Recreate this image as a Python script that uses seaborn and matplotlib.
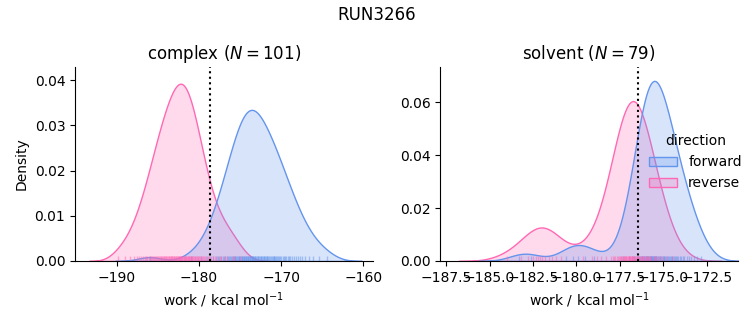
import numpy as np
import pandas as pd
import matplotlib
matplotlib.use("Agg")
import matplotlib.pyplot as plt
import seaborn as sns

run_name = "RUN3266"
phases = ["complex", "solvent"]
n_cycles = [101, 79]
directions = ["forward", "reverse"]
colors = ["cornflowerblue", "hotpink"]
xlabel = "work / kcal mol$^{-1}$"

# work values (kcal/mol)
complex_forward = [
    -173.15, -173.06, -172.97, -172.88, -172.79, -172.70, -172.61, -172.52, -172.43, -172.34,
    -172.24, -172.15, -172.05, -171.96, -171.86, -171.76, -171.67, -171.57, -171.46, -171.36,
    -171.26, -171.16, -171.05, -170.94, -170.83, -170.72, -170.60, -170.48, -170.36, -170.23,
    -170.10, -169.97, -169.83, -169.69, -169.55, -169.39, -169.23, -169.06, -168.88, -168.69,
    -168.48, -168.26, -168.02, -167.75, -167.45, -167.10, -166.68, -166.14, -165.39, -164.40,
    -173.24, -173.31, -173.39, -173.46, -173.54, -173.61, -173.69, -173.77, -173.85, -173.92,
    -174.00, -174.08, -174.16, -174.24, -174.32, -174.40, -174.48, -174.56, -174.65, -174.73,
    -174.82, -174.90, -174.99, -175.08, -175.18, -175.27, -175.37, -175.47, -175.57, -175.67,
    -175.78, -175.89, -176.01, -176.12, -176.25, -176.37, -176.51, -176.65, -176.80, -176.96,
    -177.13, -177.32, -177.52, -177.74, -177.99, -178.29, -178.63, -179.08, -179.71, -180.93,
    -186.00,
]
complex_reverse = [
    -182.54, -182.61, -182.69, -182.76, -182.84, -182.91, -182.99, -183.07, -183.15, -183.22,
    -183.30, -183.38, -183.46, -183.54, -183.62, -183.70, -183.78, -183.86, -183.95, -184.03,
    -184.12, -184.20, -184.29, -184.38, -184.48, -184.57, -184.67, -184.77, -184.87, -184.97,
    -185.08, -185.19, -185.31, -185.42, -185.55, -185.67, -185.81, -185.95, -186.10, -186.26,
    -186.43, -186.62, -186.82, -187.04, -187.29, -187.59, -187.93, -188.38, -189.01, -189.80,
    -182.47, -182.40, -182.34, -182.27, -182.21, -182.14, -182.07, -182.01, -181.94, -181.88,
    -181.81, -181.74, -181.67, -181.60, -181.53, -181.46, -181.39, -181.32, -181.25, -181.17,
    -181.10, -181.02, -180.95, -180.87, -180.79, -180.71, -180.62, -180.54, -180.45, -180.36,
    -180.26, -180.17, -180.07, -179.97, -179.86, -179.75, -179.63, -179.51, -179.38, -179.24,
    -179.09, -178.93, -178.76, -178.56, -178.35, -178.09, -177.79, -177.40, -176.86, -175.80,
    -177.30, -176.60, -175.90, -175.00,
]
solvent_forward = [
    -175.43, -175.39, -175.34, -175.30, -175.25, -175.21, -175.17, -175.12, -175.07, -175.03,
    -174.98, -174.94, -174.89, -174.84, -174.79, -174.74, -174.69, -174.63, -174.58, -174.52,
    -174.47, -174.40, -174.34, -174.28, -174.21, -174.13, -174.05, -173.97, -173.88, -173.78,
    -173.66, -173.53, -173.38, -173.25, -173.05, -172.85,
    -175.46, -175.49, -175.52, -175.54, -175.57, -175.60, -175.62, -175.65, -175.68, -175.70,
    -175.73, -175.76, -175.79, -175.82, -175.85, -175.88, -175.91, -175.94, -175.97, -176.01,
    -176.04, -176.08, -176.12, -176.16, -176.20, -176.24, -176.29, -176.34, -176.39, -176.46,
    -176.52, -176.60, -176.69, -176.81, -176.98, -177.30,
    -180.60, -180.20, -179.90, -179.50, -179.00,
    -183.30, -182.60,
]
solvent_reverse = [
    -176.73, -176.70, -176.67, -176.60, -176.57, -176.53, -176.50, -176.47, -176.43, -176.39,
    -176.32, -176.29, -176.25, -176.21, -176.17, -176.13, -176.09, -176.00, -175.96, -175.91,
    -175.86, -175.80, -175.75, -175.69, -175.56, -175.48, -175.39, -175.29, -175.17, -175.03,
    -174.81, -174.41,
    -176.76, -176.79, -176.82, -176.87, -176.90, -176.92, -176.95, -176.98, -177.00, -177.03,
    -177.09, -177.12, -177.15, -177.18, -177.21, -177.24, -177.27, -177.34, -177.38, -177.42,
    -177.46, -177.50, -177.54, -177.59, -177.69, -177.76, -177.82, -177.90, -177.99, -178.28,
    -178.60, -176.80,
    -184.00, -183.20, -182.80, -182.50, -182.30, -182.10, -182.00, -181.80, -181.60, -181.40,
    -181.20, -180.90, -182.20,
    -179.60, -179.10, -178.80,
]
# weight of cycles not shown as forward/reverse (enters the common density normalisation)
unplotted_weight = [132, 179]
# free energy estimate (dotted line)
dg_estimate = [-178.7, -176.48]

work_data = [(complex_forward, complex_reverse), (solvent_forward, solvent_reverse)]
x_limits = [(-195.07, -158.9), (-187.83, -170.7)]
y_limits = [(0, 0.0429), (0, 0.0733)]

palette = dict(zip(directions, colors))

fig, axes = plt.subplots(1, 2, figsize=(7.53, 3.25), dpi=100)
fig.subplots_adjust(left=0.0996, right=0.980, bottom=0.197, top=0.794, wspace=0.228)

for i, ax in enumerate(axes):
    fwd, rev = work_data[i]
    df = pd.DataFrame({
        "work": list(fwd) + list(rev) + [float(np.mean(fwd))],
        "direction": ["forward"] * len(fwd) + ["reverse"] * len(rev) + ["unplotted"],
        "weight": [1.0] * (len(fwd) + len(rev)) + [float(unplotted_weight[i])],
    })
    sns.kdeplot(data=df, x="work", hue="direction", hue_order=directions,
                weights="weight", palette=palette, fill=True, common_norm=True,
                ax=ax, legend=(i == 1))
    shown = df[df["direction"].isin(directions)]
    sns.rugplot(data=shown, x="work", hue="direction", hue_order=directions,
                palette=palette, alpha=0.5, legend=False, ax=ax)
    ax.axvline(dg_estimate[i], color="k", ls=":", lw=1.5)
    ax.set_xlim(*x_limits[i])
    ax.set_ylim(*y_limits[i])
    ax.set_title(f"{phases[i]} ($N = {n_cycles[i]}$)", fontsize=12)
    ax.set_xlabel(xlabel)
    ax.set_ylabel("Density" if i == 0 else "")
    sns.despine(ax=ax)

sns.move_legend(axes[1], "center left", bbox_to_anchor=(0.66, 0.508), frameon=False)
fig.suptitle(run_name, fontsize=12)

fig.savefig("out.png", dpi=100)
